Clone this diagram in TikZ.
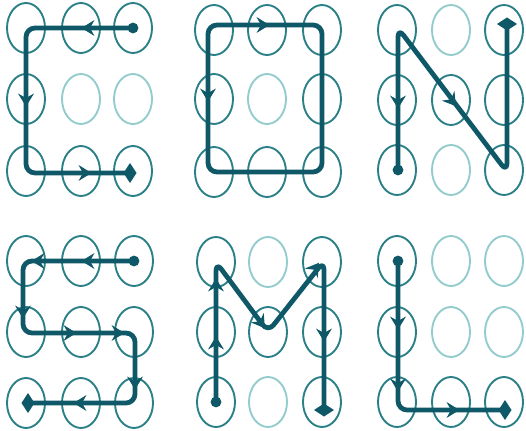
\documentclass[tikz,border=0pt]{standalone}
\usetikzlibrary{shapes.geometric,calc}
\definecolor{ringA}{HTML}{2B8088}
\definecolor{ringB}{HTML}{94CCCE}
\definecolor{trailc}{HTML}{0F5868}
\tikzset{
  ringact/.style={ellipse, draw=ringA, line width=1.9pt, minimum width=38pt, minimum height=50pt, inner sep=0pt},
  trail/.style={draw=trailc, line width=4.8pt, rounded corners=9pt, line join=round},
  pics/ahead/.style={code={\fill[trailc] (1.5,0) -- (-11.5,8) -- (-7,0) -- (-11.5,-8) -- cycle;}},
  pics/startdot/.style={code={\fill[trailc] (0,0) circle (5.4);}},
  pics/enddia/.style={code={\fill[trailc] (6.5,0) -- (0,10) -- (-6.5,0) -- (0,-10) -- cycle;}},
  ringa22/.style={draw=ringB}, ringa23/.style={draw=ringB},
  ringb22/.style={draw=ringB},
  ringc12/.style={draw=ringB}, ringc32/.style={draw=ringB},
  ringe12/.style={draw=ringB}, ringe32/.style={draw=ringB},
  ringf12/.style={draw=ringB}, ringf13/.style={draw=ringB},
  ringf22/.style={draw=ringB}, ringf23/.style={draw=ringB},
}
\newcommand\ringgrid[7]{%
  \foreach \cc/\xx in {1/#2,2/#3,3/#4}{%
    \foreach \rr/\yy in {1/#5,2/#6,3/#7}{%
      \node[ringact, ring#1\rr\cc/.try] (#1\rr\cc) at (\xx,\yy) {};
    }}}
\begin{document}
\begin{tikzpicture}[x=1pt,y=-1pt]
\useasboundingbox (0,0) rectangle (526,430);
\ringgrid{a}{26}{81}{133}{28}{99}{171}
\ringgrid{b}{214}{267}{322}{30}{99}{172}
\ringgrid{c}{397}{451}{504}{30}{100}{170}
\ringgrid{d}{26}{81}{134}{261}{332}{403}
\ringgrid{e}{216}{268}{322}{262}{332}{402}
\ringgrid{f}{397}{451}{504}{261}{332}{402}

% C
\draw[trail] (a13.center) -- (a11.center) -- ($(a31.center)+(0,2)$) -- ($(a33.center)+(-3,2)$);
\pic at (a13.center) {startdot};
\pic[rotate=180] at (83,28) {ahead};
\pic[rotate=-90] at (26,105) {ahead};
\pic at (90,173) {ahead};
\pic at ($(a33.center)+(-3,2)$) {enddia};

% O
\draw[trail] ($(b12.center)+(0,-5)$) -- ($(b13.center)+(0,-5)$) -- (b33.center) -- ($(b31.center)+(-6,0)$) -- ($(b11.center)+(-6,-5)$) -- cycle;
\pic at (268,25) {ahead};
\pic[rotate=-90] at (208,100) {ahead};

% N
\draw[trail] ($(c31.center)+(1,0)$) -- ($(c11.center)+(1,-2)$) -- ($(c33.center)+(3,2)$) -- ($(c13.center)+(3,-6)$);
\pic at ($(c31.center)+(1,0)$) {startdot};
\pic[rotate=-90] at (398,107) {ahead};
\pic[rotate=-53] at (455,105) {ahead};
\pic[rotate=90] at ($(c13.center)+(3,-6)$) {enddia};

% S
\draw[trail] (d13.center) -- ($(d11.center)+(-3,0)$) -- ($(d21.center)+(-3,1)$) -- ($(d23.center)+(1,1)$) -- ($(d33.center)+(1,0)$) -- ($(d31.center)+(2,0)$);
\pic at (d13.center) {startdot};
\pic[rotate=180] at (83,261) {ahead};
\pic[rotate=180] at (33,261) {ahead};
\pic[rotate=-90] at (23,317) {ahead};
\pic at (75,333) {ahead};
\pic at (123,333) {ahead};
\pic[rotate=-90] at (135,388) {ahead};
\pic[rotate=180] at (75,403) {ahead};
\pic[rotate=180] at ($(d31.center)+(2,0)$) {enddia};

% M
\draw[trail] (e31.center) -- (e11.center) -- (e22.center) -- ($(e13.center)+(2,-1)$) -- ($(e33.center)+(2,8)$);
\pic at (e31.center) {startdot};
\pic[rotate=90] at (216,280) {ahead};
\pic[rotate=90] at (216,338) {ahead};
\pic[rotate=-54] at (264,327) {ahead};
\pic[rotate=54] at (318,264) {ahead};
\pic[rotate=-90] at (324,340) {ahead};
\pic[rotate=-90] at ($(e33.center)+(2,8)$) {enddia};

% L
\draw[trail] ($(f11.center)+(1,0)$) -- ($(f31.center)+(1,8)$) -- ($(f33.center)+(1,8)$);
\pic at ($(f11.center)+(1,0)$) {startdot};
\pic[rotate=-90] at (398,328) {ahead};
\pic[rotate=-90] at (398,390) {ahead};
\pic at (458,410) {ahead};
\pic at ($(f33.center)+(1,8)$) {enddia};
\end{tikzpicture}
\end{document}
